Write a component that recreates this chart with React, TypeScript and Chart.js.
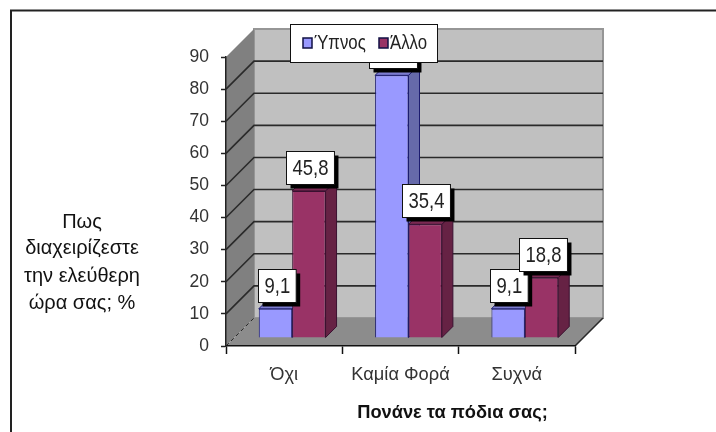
import React, { useEffect, useRef } from "react";
import { Chart, registerables } from "chart.js";

Chart.register(...registerables);

const categories = ["Όχι", "Καμία Φορά", "Συχνά"];
const sleepValues = [9.1, 81.8, 9.1];
const otherValues = [45.8, 35.4, 18.8];
const seriesNames = ["Ύπνος", "Άλλο"];
const xAxisTitle = "Πονάνε τα πόδια σας;";
const yAxisTitleLines = ["Πως", "διαχειρίζεστε", "την ελεύθερη", "ώρα σας; %"];

const FONT = '"Liberation Sans", Arial, sans-serif';
const WALL_DEPTH = 28;
const BAR_INSET = 8;
const BAR_DEPTH = 11;
const TEXT_SQUEEZE = 0.84;
const faceColors = [
  { front: "#9999FF", side: "#666AAA", top: "#7C7CD0", edge: "#1C1C70" },
  { front: "#993366", side: "#662244", top: "#7A2952", edge: "#3A1030" },
];

function poly(ctx: CanvasRenderingContext2D, pts: number[][], fill?: string, stroke?: string, lw = 1) {
  ctx.beginPath();
  pts.forEach(([x, y], i) => (i ? ctx.lineTo(x, y) : ctx.moveTo(x, y)));
  ctx.closePath();
  if (fill) {
    ctx.fillStyle = fill;
    ctx.fill();
  }
  if (stroke) {
    ctx.strokeStyle = stroke;
    ctx.lineWidth = lw;
    ctx.stroke();
  }
}

// Tall, condensed lettering for the value labels and legend entries.
function squeezedText(ctx: CanvasRenderingContext2D, text: string, x: number, y: number) {
  ctx.save();
  ctx.translate(x, y);
  ctx.scale(TEXT_SQUEEZE, 1);
  ctx.fillText(text, 0, 0);
  ctx.restore();
}

// Back wall, side wall and floor of the box behind the columns, plus the outer frame.
const boxPlugin = {
  id: "box3d",
  beforeDraw(chart: any) {
    const { ctx, chartArea: a, scales } = chart;
    const d = WALL_DEPTH;
    const y = scales.y;
    ctx.save();
    ctx.fillStyle = "#FFFFFF";
    ctx.fillRect(0, 0, chart.width, chart.height);

    // outer frame
    ctx.strokeStyle = "#222222";
    ctx.lineWidth = 2;
    ctx.beginPath();
    ctx.moveTo(11, chart.height);
    ctx.lineTo(11, 10.5);
    ctx.lineTo(chart.width, 10.5);
    ctx.stroke();

    const bottom = y.getPixelForValue(0);
    const top = y.getPixelForValue(90);
    poly(ctx, [[a.left + d, top - d], [a.right + d, top - d], [a.right + d, bottom - d], [a.left + d, bottom - d]], "#C0C0C0", "#969696", 2);
    poly(ctx, [[a.left, top], [a.left + d, top - d], [a.left + d, bottom - d], [a.left, bottom]], "#808080");
    poly(ctx, [[a.left, bottom], [a.right, bottom], [a.right + d, bottom - d], [a.left + d, bottom - d]], "#8C8C8C");

    // gridlines run along the side wall and across the back wall
    ctx.strokeStyle = "#2A2A2A";
    ctx.lineWidth = 1.6;
    y.ticks.forEach((t: any) => {
      if (t.value === 0 || t.value === 90) return;
      const py = y.getPixelForValue(t.value);
      ctx.beginPath();
      ctx.moveTo(a.left, py);
      ctx.lineTo(a.left + d, py - d);
      ctx.lineTo(a.right + d, py - d);
      ctx.stroke();
    });
    ctx.beginPath();
    ctx.moveTo(a.right, bottom);
    ctx.lineTo(a.right + d, bottom - d);
    ctx.stroke();
    ctx.setLineDash([4, 3]);
    ctx.lineWidth = 1;
    ctx.beginPath();
    ctx.moveTo(a.left, bottom);
    ctx.lineTo(a.left + d, bottom - d);
    ctx.stroke();
    ctx.restore();
  },
  // Side and top faces of each column; the library then draws the front faces on the shifted plane.
  beforeDatasetsDraw(chart: any) {
    const { ctx } = chart;
    const e = BAR_DEPTH;
    ctx.save();
    ctx.translate(BAR_INSET, -BAR_INSET);
    chart.data.datasets.forEach((_: any, di: number) => {
      const c = faceColors[di];
      chart.getDatasetMeta(di).data.forEach((bar: any) => {
        const l = bar.x - bar.width / 2;
        const r = bar.x + bar.width / 2;
        poly(ctx, [[r, bar.y], [r + e, bar.y - e], [r + e, bar.base - e], [r, bar.base]], c.side, c.edge);
        poly(ctx, [[l, bar.y], [l + e, bar.y - e], [r + e, bar.y - e], [r, bar.y]], c.top, c.edge);
      });
    });
  },
  // Value labels, axis titles and the legend box sit above the columns.
  afterDatasetsDraw(chart: any) {
    const { ctx, chartArea: a } = chart;
    ctx.restore();
    ctx.save();
    ctx.textAlign = "center";
    ctx.textBaseline = "middle";

    chart.data.datasets.forEach((ds: any, di: number) => {
      chart.getDatasetMeta(di).data.forEach((bar: any, i: number) => {
        const text = ds.data[i].toFixed(1).replace(".", ",");
        ctx.font = `22px ${FONT}`;
        const w = ctx.measureText(text).width * TEXT_SQUEEZE + 12;
        const h = 33;
        const cx = bar.x + BAR_INSET + 1;
        const by = bar.y - BAR_INSET - 7;
        const x0 = Math.round(cx - w / 2) + 0.5;
        const y0 = Math.round(by - h) + 0.5;
        ctx.fillStyle = "#000000";
        ctx.fillRect(x0 + 4, y0 + 4, w, h);
        ctx.fillStyle = "#FFFFFF";
        ctx.fillRect(x0, y0, w, h);
        ctx.strokeStyle = "#111111";
        ctx.lineWidth = 1;
        ctx.strokeRect(x0, y0, w, h);
        ctx.fillStyle = "#222222";
        squeezedText(ctx, text, x0 + w / 2, y0 + h / 2 + 1);
      });
    });

    ctx.fillStyle = "#111111";
    ctx.font = `20px ${FONT}`;
    const lineYs = [222, 248, 276, 303];
    yAxisTitleLines.forEach((line, i) => ctx.fillText(line, 82, lineYs[i]));

    ctx.font = `bold 18.3px ${FONT}`;
    ctx.fillText(xAxisTitle, (a.left + a.right) / 2 + 52, 413);

    // legend box
    const lx = 290.5;
    const ly = 24.5;
    ctx.fillStyle = "#FFFFFF";
    ctx.fillRect(lx, ly, 147, 38);
    ctx.strokeStyle = "#111111";
    ctx.lineWidth = 1;
    ctx.strokeRect(lx, ly, 147, 38);
    ctx.textAlign = "left";
    ctx.font = `20px ${FONT}`;
    [303, 379].forEach((sx, i) => {
      poly(ctx, [[sx, 38], [sx + 9, 38], [sx + 9, 48], [sx, 48]], faceColors[i].front, "#111144", 1.5);
      ctx.fillStyle = "#222222";
      squeezedText(ctx, chart.data.datasets[i].label, sx + 11, 43.5);
    });
    ctx.restore();
  },
};

export default function App() {
  const ref = useRef<HTMLCanvasElement>(null);
  useEffect(() => {
    if (!ref.current) return;
    const chart = new Chart(ref.current, {
      type: "bar",
      data: {
        labels: categories,
        datasets: [
          { label: seriesNames[0], data: sleepValues, backgroundColor: faceColors[0].front, borderColor: faceColors[0].edge, borderWidth: 1, clip: false },
          { label: seriesNames[1], data: otherValues, backgroundColor: faceColors[1].front, borderColor: faceColors[1].edge, borderWidth: 1, clip: false },
        ],
      },
      options: {
        responsive: false,
        animation: false,
        layout: { padding: { left: 186, right: 141, top: 57, bottom: 46 } },
        datasets: { bar: { categoryPercentage: 0.574, barPercentage: 1 } },
        plugins: { legend: { display: false }, tooltip: { enabled: false } },
        scales: {
          x: {
            afterFit: (s: any) => { s.height = 40; },
            border: { color: "#111111", width: 1.5 },
            grid: { drawOnChartArea: false, color: "#111111", tickLength: 8, tickWidth: 1.5 },
            ticks: { font: { family: FONT, size: 18.3 }, color: "#333333", padding: 10, maxRotation: 0, autoSkip: false },
          },
          y: {
            min: 0,
            max: 90,
            afterFit: (s: any) => { s.width = 40; },
            border: { color: "#222222", width: 1.5 },
            grid: { drawOnChartArea: false, color: "#222222", tickLength: 5, tickWidth: 1.5 },
            ticks: { stepSize: 10, font: { family: FONT, size: 17.5 }, color: "#333333", padding: 12 },
          },
        },
      },
      plugins: [boxPlugin],
    } as any);
    return () => chart.destroy();
  }, []);
  return (
    <div style={{ position: "fixed", left: 0, top: 0, width: 716, height: 432, background: "#fff" }}>
      <canvas ref={ref} width={716} height={432} style={{ display: "block" }} />
    </div>
  );
}
